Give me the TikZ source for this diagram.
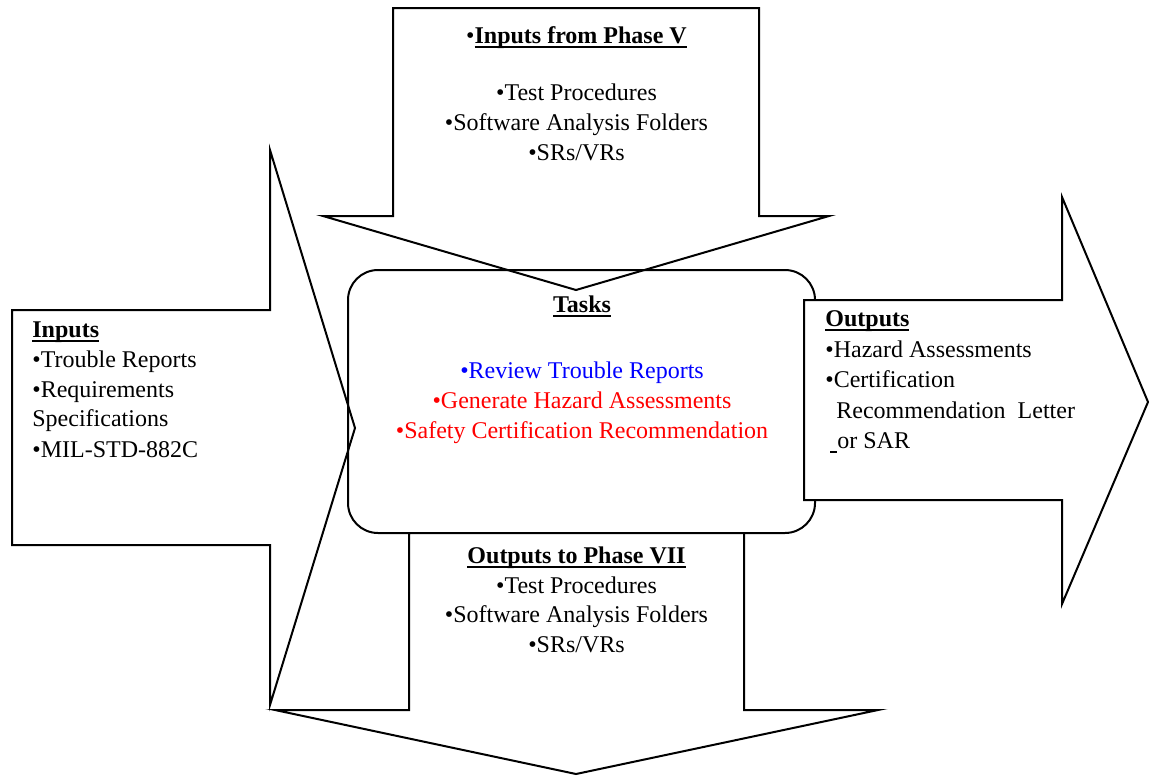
\documentclass[tikz,border=0pt]{standalone}
\usepackage{fontspec}
\setmainfont{Liberation Serif}
\definecolor{taskblue}{RGB}{0,0,255}
\definecolor{taskred}{RGB}{255,0,0}
% underline with a heavier rule set a little below the baseline
\newcommand{\ulrule}[1]{\setbox0\hbox{#1}\rlap{\rule[-2.7pt]{\wd0}{1pt}}\box0}
\begin{document}
\begin{tikzpicture}[x=0.5pt,y=-0.5pt,
  outline/.style={draw=black, line width=1pt, line join=miter},
  blockarrow/.style={outline, fill=white},
  txt/.style={inner sep=0pt, anchor=base, font=\fontsize{12}{15}\selectfont},
  ltxt/.style={txt, anchor=base west},
  ttl/.style={txt, font=\fontsize{12}{15}\selectfont\bfseries}]
\useasboundingbox (0,0) rectangle (1149,776);

% block arrows feeding the task box
\draw[blockarrow] (12,310) -- (270,310) -- (270,150) -- (355,428) -- (270,705)
  -- (270,545) -- (12,545) -- cycle;
\draw[blockarrow] (393,8) -- (759,8) -- (759,216) -- (829,216) -- (576,290)
  -- (323,216) -- (393,216) -- cycle;

% task box
\draw[outline, rounded corners=15pt] (348,270) rectangle (815,533);

% block arrows leaving the task box
\draw[blockarrow] (804,300) -- (1062,300) -- (1062,197) -- (1148,402) -- (1062,604)
  -- (1062,500) -- (804,500) -- cycle;
\draw[blockarrow] (409,533) -- (744,533) -- (744,710) -- (878,710) -- (576,774)
  -- (275,710) -- (409,710) -- cycle;

% inputs from phase V
\node[txt] (inV) at (576.5,43) {•\ulrule{\textbf{Inputs from Phase V}}};
\node[txt] (inV1) at (576.5,100) {•Test Procedures};
\node[txt] (inV2) at (576.5,130) {•Software Analysis Folders};
\node[txt] (inV3) at (576.5,160) {•SRs/VRs};

% inputs
\node[ltxt] (in) at (32,337) {\ulrule{\textbf{Inputs}}};
\node[ltxt] (in1) at (32,367) {•Trouble Reports};
\node[ltxt] (in2) at (32,397) {•Requirements};
\node[ltxt] (in3) at (32,426) {Specifications};
\node[ltxt] (in4) at (32,457) {•MIL-STD-882C};

% tasks
\node[ttl] (tasks) at (582,312) {\ulrule{Tasks}};
\node[txt, text=taskblue] (t1) at (582,378) {•Review Trouble Reports};
\node[txt, text=taskred] (t2) at (582,408) {•Generate Hazard Assessments};
\node[txt, text=taskred] (t3) at (582,438) {•Safety Certification Recommendation};

% outputs
\node[ltxt] (out) at (825,326) {\ulrule{\textbf{Outputs}}};
\node[ltxt] (out1) at (825,357) {•Hazard Assessments};
\node[ltxt] (out2) at (825,387) {•Certification};
\node[ltxt] (out3) at (836,418) {Recommendation\ \ Letter};
\node[ltxt] (out4) at (830,448) {\ulrule{\hspace{3.5pt}}or SAR};

% outputs to phase VII
\node[ttl] (outVII) at (576.5,563) {\ulrule{Outputs to Phase VII}};
\node[txt] (outVII1) at (576.5,593) {•Test Procedures};
\node[txt] (outVII2) at (576.5,622) {•Software Analysis Folders};
\node[txt] (outVII3) at (576.5,652) {•SRs/VRs};
\end{tikzpicture}
\end{document}
